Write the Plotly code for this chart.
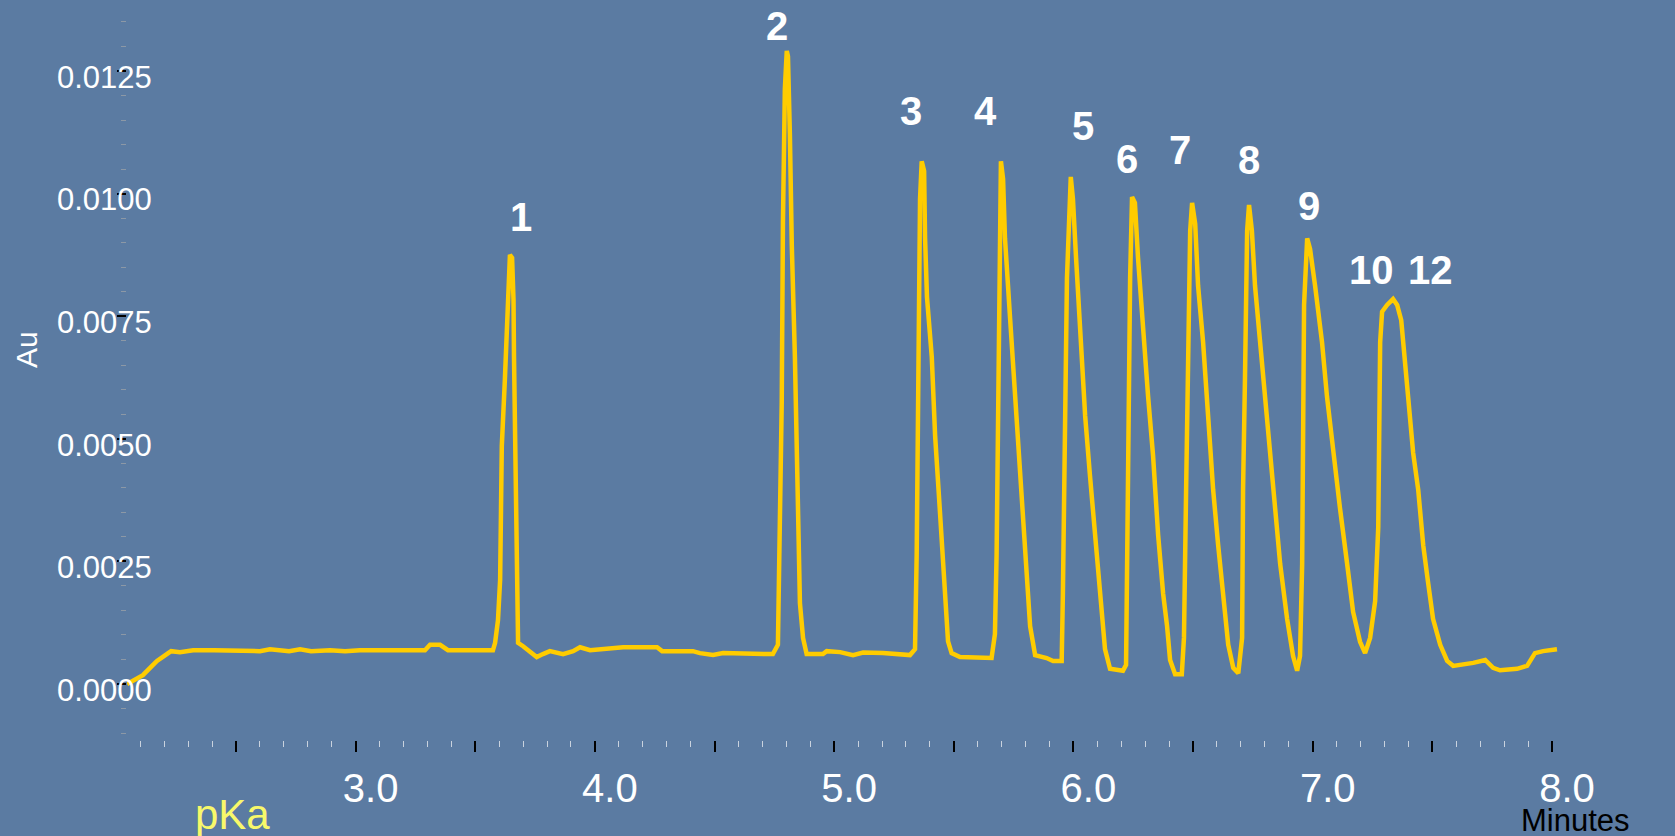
import plotly.graph_objects as go

# ---- data ----
time_min = [
    2.045, 2.078, 2.111, 2.141, 2.170, 2.199, 2.229, 2.266, 2.296, 2.321,
    2.409, 2.500, 2.600, 2.642, 2.722, 2.768, 2.814, 2.893, 2.956, 3.018,
    3.100, 3.200, 3.290, 3.311, 3.353, 3.386, 3.480, 3.574,
    3.583, 3.595, 3.604, 3.611, 3.624, 3.637, 3.645, 3.654, 3.660, 3.662, 3.666, 3.673, 3.679,
    3.700, 3.736, 3.757, 3.783, 3.812, 3.867, 3.909, 3.938, 3.980, 4.118,
    4.260, 4.281, 4.410, 4.439, 4.494, 4.536, 4.607, 4.690, 4.744, 4.765,
    4.774, 4.781, 4.786, 4.794, 4.802, 4.807, 4.815, 4.823, 4.836, 4.845, 4.857, 4.870, 4.885,
    4.953, 4.969, 5.025, 5.079, 5.121, 5.204, 5.317,
    5.338, 5.345, 5.349, 5.355, 5.359, 5.366, 5.376, 5.380, 5.388, 5.408, 5.422, 5.443, 5.464, 5.476, 5.491, 5.526, 5.658,
    5.672, 5.679, 5.685, 5.693, 5.697, 5.706, 5.714, 5.735, 5.756, 5.777, 5.798, 5.819, 5.840, 5.888, 5.915, 5.951,
    5.956, 5.965, 5.973, 5.989, 5.998, 6.011, 6.028, 6.049, 6.069, 6.090, 6.111, 6.132, 6.153, 6.207, 6.220,
    6.228, 6.237, 6.245, 6.257, 6.270, 6.287, 6.312, 6.333, 6.354, 6.375, 6.391, 6.404, 6.425, 6.453,
    6.462, 6.471, 6.479, 6.488, 6.496, 6.509, 6.521, 6.542, 6.563, 6.584, 6.605, 6.626, 6.647, 6.668, 6.689,
    6.705, 6.709, 6.717, 6.726, 6.734, 6.746, 6.759, 6.780, 6.809, 6.834, 6.864, 6.893, 6.918, 6.935,
    6.947, 6.956, 6.960, 6.964, 6.977, 6.989, 7.010, 7.039, 7.060, 7.085, 7.114, 7.144, 7.169, 7.198, 7.219,
    7.240, 7.261, 7.274, 7.278, 7.282, 7.290, 7.311, 7.336, 7.353, 7.370, 7.386, 7.399, 7.420, 7.441, 7.462, 7.482, 7.503, 7.533,
    7.562, 7.587, 7.671, 7.721, 7.754, 7.783, 7.854, 7.896, 7.929, 7.963, 8.021,
]

absorbance_au = [
    0.00000, 0.00008, 0.00018, 0.00033, 0.00047, 0.00057, 0.00067, 0.00065, 0.00067, 0.00069,
    0.00069, 0.00069, 0.00067, 0.00071, 0.00067, 0.00071, 0.00067, 0.00069, 0.00067, 0.00069,
    0.00069, 0.00069, 0.00069, 0.00080, 0.00080, 0.00069, 0.00069, 0.00069,
    0.00084, 0.00130, 0.00212, 0.00485, 0.00622, 0.00803, 0.00875, 0.00869, 0.00783, 0.00667, 0.00485, 0.00257, 0.00084,
    0.00077, 0.00064, 0.00055, 0.00061, 0.00067, 0.00061, 0.00067, 0.00075, 0.00069, 0.00075,
    0.00075, 0.00067, 0.00067, 0.00063, 0.00059, 0.00063, 0.00063, 0.00061, 0.00061, 0.00080,
    0.00302, 0.00575, 0.00940, 0.01213, 0.01291, 0.01280, 0.01121, 0.00895, 0.00667, 0.00394, 0.00165, 0.00094, 0.00061,
    0.00061, 0.00067, 0.00065, 0.00059, 0.00064, 0.00063, 0.00059,
    0.00071, 0.00265, 0.00506, 0.00828, 0.00989, 0.01066, 0.01046, 0.00909, 0.00789, 0.00667, 0.00506, 0.00345, 0.00184, 0.00087, 0.00063, 0.00055, 0.00053,
    0.00102, 0.00265, 0.00587, 0.00909, 0.01066, 0.01030, 0.00909, 0.00748, 0.00587, 0.00426, 0.00265, 0.00118, 0.00059, 0.00053, 0.00047, 0.00047,
    0.00184, 0.00506, 0.00828, 0.01034, 0.00989, 0.00869, 0.00708, 0.00547, 0.00426, 0.00304, 0.00184, 0.00071, 0.00031, 0.00027, 0.00039,
    0.00506, 0.00828, 0.00993, 0.00981, 0.00869, 0.00748, 0.00587, 0.00465, 0.00304, 0.00184, 0.00120, 0.00049, 0.00020, 0.00020,
    0.00094, 0.00396, 0.00697, 0.00924, 0.00981, 0.00938, 0.00812, 0.00697, 0.00546, 0.00396, 0.00283, 0.00169, 0.00080, 0.00033, 0.00022,
    0.00094, 0.00396, 0.00622, 0.00924, 0.00977, 0.00924, 0.00812, 0.00697, 0.00546, 0.00396, 0.00245, 0.00133, 0.00057, 0.00027,
    0.00057, 0.00245, 0.00471, 0.00773, 0.00909, 0.00887, 0.00812, 0.00697, 0.00585, 0.00471, 0.00359, 0.00245, 0.00147, 0.00086, 0.00063,
    0.00094, 0.00169, 0.00320, 0.00471, 0.00697, 0.00759, 0.00773, 0.00785, 0.00773, 0.00742, 0.00661, 0.00585, 0.00471, 0.00396, 0.00283, 0.00208, 0.00133, 0.00080,
    0.00047, 0.00037, 0.00043, 0.00049, 0.00033, 0.00028, 0.00031, 0.00037, 0.00063, 0.00067, 0.00071,
]
assert len(time_min) == len(absorbance_au)

peak_names = ["1", "2", "3", "4", "5", "6", "7", "8", "9", "10", "12"]
peak_label_t = [3.690, 4.763, 5.321, 5.634, 6.038, 6.224, 6.446, 6.734, 6.985, 7.247, 7.491]
peak_label_au = [0.00953, 0.01342, 0.01169, 0.01169, 0.01137, 0.01071, 0.01088, 0.01069, 0.00975, 0.00845, 0.00845]

x_tick_vals = [2.5, 3.0, 3.5, 4.0, 4.5, 5.0, 5.5, 6.0, 6.5, 7.0, 7.5, 8.0]
x_tick_text = ["", "3.0", "", "4.0", "", "5.0", "", "6.0", "", "7.0", "", "8.0"]
y_tick_vals = [0.0, 0.0025, 0.0050, 0.0075, 0.0100, 0.0125]
y_tick_text = ["0.0000", "0.0025", "0.0050", "0.0075", "0.0100", "0.0125"]

BG = "#5b7ba2"
LINE = "#ffcc00"
FONT = "Liberation Sans, Arial, sans-serif"

fig = go.Figure()
fig.add_trace(go.Scatter(
    x=time_min, y=absorbance_au, mode="lines",
    line=dict(color=LINE, width=4.5), hoverinfo="skip", showlegend=False,
))

for name, t, a in zip(peak_names, peak_label_t, peak_label_au):
    fig.add_annotation(
        x=t, y=a, xref="x", yref="y", text=name, showarrow=False,
        xanchor="center", yanchor="middle",
        font=dict(family=FONT, size=40, color="white", weight="bold"),
    )

fig.add_annotation(x=-0.0693, y=0.5417, xref="paper", yref="paper", text="Au",
                   textangle=-90, showarrow=False, xanchor="center", yanchor="middle",
                   font=dict(family=FONT, size=30, color="white"))
fig.add_annotation(x=0.0728, y=-0.104, xref="paper", yref="paper", text="pKa",
                   showarrow=False, xanchor="center", yanchor="middle",
                   font=dict(family=FONT, size=42, color="#f8f86a"))
fig.add_annotation(x=1.004, y=-0.112, xref="paper", yref="paper", text="Minutes",
                   showarrow=False, xanchor="center", yanchor="middle",
                   font=dict(family=FONT, size=31, color="black"))

fig.update_layout(
    width=1675, height=836,
    margin=dict(l=127, r=105, t=20, b=96, autoexpand=False),
    paper_bgcolor=BG, plot_bgcolor=BG,
    showlegend=False,
    xaxis=dict(
        range=[2.0446, 8.0754], showgrid=False, zeroline=False, showline=False,
        tickmode="array", tickvals=x_tick_vals, ticktext=x_tick_text,
        ticks="outside", ticklen=11, tickwidth=2, tickcolor="black",
        tickfont=dict(family=FONT, size=40, color="white"),
        ticklabelshift=15, ticklabelstandoff=2,
        minor=dict(tickmode="linear", tick0=2.0, dtick=0.1, ticks="outside",
                   ticklen=6, tickwidth=1, tickcolor="#c9d2de", showgrid=False),
        fixedrange=True,
    ),
    yaxis=dict(
        range=[-0.0011419, 0.013540], showgrid=False, zeroline=False, showline=False,
        tickmode="array", tickvals=y_tick_vals, ticktext=y_tick_text,
        ticks="outside", ticklen=9, tickwidth=2, tickcolor="black",
        tickfont=dict(family=FONT, size=31, color="white"),
        ticklabelstandoff=-41, ticklabelshift=6,
        minor=dict(tickmode="linear", tick0=0.0, dtick=0.0005, ticks="outside",
                   ticklen=5, tickwidth=1, tickcolor="#8c98a6", showgrid=False),
        fixedrange=True,
    ),
)

fig.write_html("out.html")
